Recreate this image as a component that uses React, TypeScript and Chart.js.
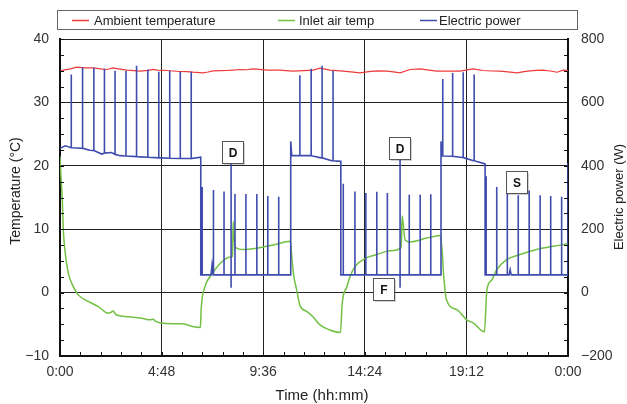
import React, { useEffect, useRef } from "react";
import { Chart, registerables } from "chart.js";
Chart.register(...registerables);

// ---- axis definitions ----
const timeMin = 0;
const timeMax = 1440; // minutes
const timeStep = 288;
const tempMin = -10;
const tempMax = 40;
const tempStep = 10;
const powerMin = -200;
const powerMax = 800;
const powerStep = 200;

const legendLabels = ["Ambient temperature", "Inlet air temp", "Electric power"];
const seriesColors = ["#ee3a3a", "#72c043", "#3f4cad"];

// ---- Ambient temperature (°C) ----
const ambientTime = [0, 9, 30, 47, 70, 94, 115, 133, 150, 170, 190, 210, 227, 250, 264, 275, 303, 320, 340, 360, 377, 405, 420, 434, 455, 473, 490, 510, 530, 547, 565, 587, 605, 624, 640, 661, 690, 717, 737, 765, 785, 802, 825, 850, 875, 899, 927, 945, 964, 992, 1021, 1045, 1069, 1100, 1134, 1150, 1171, 1199, 1225, 1247, 1270, 1296, 1315, 1332, 1350, 1369, 1390, 1409, 1426, 1440];
const ambientTemp = [34.9, 35.1, 35.3, 35.55, 35.45, 35.44, 35.3, 35.19, 35.44, 35.25, 35.08, 35.0, 34.92, 35.05, 35.2, 35.08, 35.03, 34.95, 34.87, 34.85, 34.76, 34.66, 34.8, 34.98, 35.0, 35.03, 35.1, 35.19, 35.15, 35.29, 35.2, 35.08, 35.1, 35.08, 35.0, 34.92, 35.0, 35.08, 35.39, 35.08, 35.0, 34.92, 34.8, 34.66, 34.85, 34.98, 34.92, 34.8, 34.66, 35.19, 35.29, 35.1, 34.92, 34.95, 34.92, 35.1, 35.29, 35.03, 34.95, 34.92, 34.8, 34.66, 34.85, 34.98, 35.05, 35.08, 34.95, 34.76, 35.08, 35.0];

// ---- Inlet air temperature (°C) ----
const inletTime = [0, 3, 6.5, 9.4, 14, 23.5, 37.7, 51.9, 80, 108.6, 137, 145, 151, 157, 165, 194, 232, 255, 264, 270, 288, 317, 345, 373, 398, 400, 411, 425, 435, 454, 482, 489, 491, 496, 519, 558, 604, 653, 658, 663, 671, 680, 700, 717, 737, 765, 795, 800, 813, 822, 836, 865, 898, 936, 967, 970, 978, 992, 1040, 1078, 1084, 1087, 1096, 1125, 1153, 1172, 1203, 1210, 1224, 1238, 1266, 1304, 1351, 1398, 1440];
const inletTemp = [21.5, 18.0, 14.6, 9.9, 6.7, 3.1, 0.95, -0.36, -1.4, -2.2, -3.25, -3.1, -2.9, -3.4, -3.6, -3.8, -4.05, -4.3, -4.2, -4.5, -4.8, -4.9, -4.9, -5.3, -5.5, -2.7, 0.95, 2.5, 3.3, 4.6, 5.6, 5.7, 11.2, 7.2, 6.8, 7.0, 7.5, 8.1, 5.0, 2.5, 0.4, -2.0, -3.0, -3.8, -5.1, -5.9, -6.3, -1.7, 0.9, 2.5, 4.1, 5.4, 6.0, 6.6, 7.1, 12.1, 8.3, 8.0, 8.6, 9.0, 6.0, 3.1, -1.2, -2.7, -4.3, -4.8, -6.2, 0.4, 2.0, 3.6, 5.2, 6.0, 6.8, 7.3, 7.7];

// ---- Electric power (W): base level ----
const powerBaseTime = [0, 15, 47, 85, 118, 146, 170, 226, 283, 368, 399, 399, 428, 431, 434, 654, 654, 657, 700, 740, 770, 796, 796, 1080, 1080, 1083, 1135, 1172, 1205, 1205, 1273, 1276, 1279, 1440, 1440];
const powerBaseWatt = [455, 463, 456, 449, 437, 442, 432, 428, 425, 423, 427, 56, 56, 87, 56, 56, 477, 432, 432, 425, 416, 414, 56, 56, 477, 432, 427, 416, 406, 56, 56, 72, 56, 56, 409];

// ---- Electric power (W): compressor spikes ----
const spikeTime = [32, 64, 96, 126, 156, 187, 217, 249, 280, 311, 341, 372, 403, 435, 465, 485, 496, 527, 558, 589, 620, 680, 712, 743, 774, 803, 836, 867, 898, 928, 964, 990, 1021, 1051, 1085, 1113, 1143, 1174, 1208, 1238, 1268, 1299, 1330, 1361, 1391, 1422];
const spikePeak = [688, 711, 709, 706, 700, 700, 716, 704, 697, 700, 697, 697, 333, 324, 319, 430, 311, 311, 311, 305, 302, 686, 706, 716, 700, 343, 319, 314, 318, 314, 440, 309, 309, 310, 674, 693, 695, 688, 367, 333, 325, 307, 322, 307, 305, 302];
const spikeBase = [457, 455, 448, 440, 436, 431, 429, 427, 425, 424, 423, 423, 56, 56, 56, 56, 56, 56, 56, 56, 56, 432, 432, 425, 416, 56, 56, 56, 56, 56, 56, 56, 56, 56, 431, 430, 426, 416, 56, 56, 56, 56, 56, 56, 56, 56];
const spikeLow = [null, null, null, null, null, null, null, null, null, null, null, null, null, null, null, 15, null, null, null, null, null, null, null, null, null, null, null, null, null, null, 15, null, null, null, null, null, null, null, null, null, null, null, null, null, null, null];

// ---- Event labels (D = defrost, F, S) ----
const eventLabels = ["D", "D", "F", "S"];
const eventTime = [489, 961, 917, 1293];
const eventWatt = [445, 456, 12, 350];

function fmtTime(v: number) {
  const h = Math.floor(v / 60) % 24;
  const m = Math.round(v % 60);
  return `${h}:${m < 10 ? "0" + m : m}`;
}

function buildPower() {
  const groups: { t: number; pts: { x: number; y: number }[] }[] = [];
  powerBaseTime.forEach((t, i) => groups.push({ t, pts: [{ x: t, y: powerBaseWatt[i] }] }));
  spikeTime.forEach((t, i) => {
    const pts = [
      { x: t, y: spikeBase[i] },
      { x: t, y: spikePeak[i] },
    ];
    if (spikeLow[i] != null) pts.push({ x: t, y: spikeLow[i] as number });
    pts.push({ x: t, y: spikeBase[i] });
    groups.push({ t, pts });
  });
  groups.sort((a, b) => a.t - b.t);
  return groups.flatMap((g) => g.pts);
}

const FONT = "'Liberation Sans', Arial, Helvetica, sans-serif";

const decorPlugin = {
  id: "decor",
  afterDatasetsDraw(chart: any) {
    const ctx = chart.ctx;
    const xs = chart.scales.x;
    const ys = chart.scales.y;
    const ys1 = chart.scales.y1;
    const { left, right, bottom } = chart.chartArea;
    ctx.save();
    // minor ticks (inward)
    ctx.strokeStyle = "#111";
    ctx.lineWidth = 1;
    ctx.beginPath();
    for (let v = tempMin; v <= tempMax + 1e-6; v += tempStep / 4) {
      const y = Math.round(ys.getPixelForValue(v)) + 0.5;
      ctx.moveTo(left, y);
      ctx.lineTo(left + 4, y);
      ctx.moveTo(right, y);
      ctx.lineTo(right - 4, y);
    }
    for (let v = timeMin; v <= timeMax + 1e-6; v += timeStep / 5) {
      const x = Math.round(xs.getPixelForValue(v)) + 0.5;
      ctx.moveTo(x, bottom);
      ctx.lineTo(x, bottom - 4);
    }
    ctx.stroke();

    // event boxes
    eventLabels.forEach((lab, i) => {
      const cx = xs.getPixelForValue(eventTime[i]);
      const cy = ys1.getPixelForValue(eventWatt[i]);
      const w = 21, h = 22;
      const bx = Math.round(cx - w / 2) + 0.5;
      const by = Math.round(cy - h / 2) + 0.5;
      ctx.fillStyle = "rgba(0,0,0,0.18)";
      ctx.fillRect(bx + 1.5, by + 1.5, w, h);
      ctx.fillStyle = "#fff";
      ctx.fillRect(bx, by, w, h);
      ctx.strokeStyle = "#555";
      ctx.lineWidth = 1;
      ctx.strokeRect(bx, by, w, h);
      ctx.fillStyle = "#111";
      ctx.font = `bold 12px ${FONT}`;
      ctx.textAlign = "center";
      ctx.textBaseline = "middle";
      ctx.fillText(lab, bx + w / 2, by + h / 2 + 1);
    });
    ctx.restore();
  },
  afterDraw(chart: any) {
    const ctx = chart.ctx;
    ctx.save();
    // legend box
    ctx.strokeStyle = "#666";
    ctx.lineWidth = 1;
    ctx.strokeRect(57.5, 10.5, 520, 19);
    const lineX = [72, 278, 420];
    const textX = [94, 299, 439];
    ctx.font = `13px ${FONT}`;
    ctx.textBaseline = "middle";
    ctx.textAlign = "left";
    legendLabels.forEach((lab, i) => {
      ctx.strokeStyle = seriesColors[i];
      ctx.lineWidth = 1.5;
      ctx.beginPath();
      ctx.moveTo(lineX[i], 20.5);
      ctx.lineTo(lineX[i] + 17, 20.5);
      ctx.stroke();
      ctx.fillStyle = "#222";
      ctx.fillText(lab, textX[i], 21);
    });
    // axis titles
    ctx.fillStyle = "#222";
    ctx.textAlign = "center";
    ctx.textBaseline = "middle";
    ctx.font = `15px ${FONT}`;
    ctx.fillText("Time (hh:mm)", 322, 396);
    ctx.save();
    ctx.translate(16, 191);
    ctx.rotate(-Math.PI / 2);
    ctx.font = `14px ${FONT}`;
    ctx.fillText("Temperature (°C)", 0, 0);
    ctx.restore();
    ctx.save();
    ctx.translate(619, 197);
    ctx.rotate(-Math.PI / 2);
    ctx.font = `13px ${FONT}`;
    ctx.fillText("Electric power (W)", 0, 0);
    ctx.restore();
    ctx.restore();
  },
};

export default function App() {
  const ref = useRef<HTMLCanvasElement | null>(null);
  useEffect(() => {
    if (!ref.current) return;
    const tickFont = { family: FONT, size: 14 };
    const chart = new Chart(ref.current, {
      type: "line",
      data: {
        datasets: [
          {
            label: legendLabels[2],
            data: buildPower(),
            borderColor: seriesColors[2],
            borderWidth: 1.6,
            pointRadius: 0,
            yAxisID: "y1",
            order: 0,
          },
          {
            label: legendLabels[0],
            data: ambientTime.map((t, i) => ({ x: t, y: ambientTemp[i] })),
            borderColor: seriesColors[0],
            borderWidth: 1.2,
            pointRadius: 0,
            yAxisID: "y",
            order: 1,
          },
          {
            label: legendLabels[1],
            data: inletTime.map((t, i) => ({ x: t, y: inletTemp[i] })),
            borderColor: seriesColors[1],
            borderWidth: 1.5,
            pointRadius: 0,
            yAxisID: "y",
            cubicInterpolationMode: "monotone",
            order: 2,
          },
        ],
      },
      options: {
        animation: false,
        responsive: false,
        devicePixelRatio: 1,
        layout: { padding: { top: 39, left: 0, right: 0, bottom: 0 } },
        plugins: { legend: { display: false }, tooltip: { enabled: false } },
        elements: { line: { tension: 0 } },
        scales: {
          x: {
            type: "linear",
            min: timeMin,
            max: timeMax,
            ticks: {
              stepSize: timeStep,
              callback: (v: any) => fmtTime(Number(v)),
              font: tickFont,
              color: "#333",
              padding: 8,
              maxRotation: 0,
            },
            grid: { color: "#222", lineWidth: 1, drawTicks: false },
            border: { color: "#111", width: 2 },
            afterFit: (s: any) => {
              s.height = 48;
            },
          },
          y: {
            position: "left",
            min: tempMin,
            max: tempMax,
            ticks: {
              stepSize: tempStep,
              font: tickFont,
              color: "#333",
              padding: 11,
              callback: (v: any) => (Number(v) < 0 ? "\u2212" + Math.abs(Number(v)) : String(v)),
            },
            grid: { color: "#222", lineWidth: 1, drawTicks: false },
            border: { color: "#111", width: 2 },
            afterFit: (s: any) => {
              s.width = 60;
            },
          },
          y1: {
            position: "right",
            min: powerMin,
            max: powerMax,
            ticks: {
              stepSize: powerStep,
              font: tickFont,
              color: "#333",
              padding: 13,
              callback: (v: any) => (Number(v) < 0 ? "\u2212" + Math.abs(Number(v)) : String(v)),
            },
            grid: { display: false, drawTicks: false },
            border: { color: "#111", width: 2 },
            afterFit: (s: any) => {
              s.width = 59;
            },
          },
        },
      },
      plugins: [decorPlugin],
    } as any);
    return () => chart.destroy();
  }, []);
  return (
    <div style={{ position: "absolute", left: 0, top: 0, width: 627, height: 404, background: "#fff" }}>
      <canvas ref={ref} width={627} height={404} style={{ display: "block" }} />
    </div>
  );
}
